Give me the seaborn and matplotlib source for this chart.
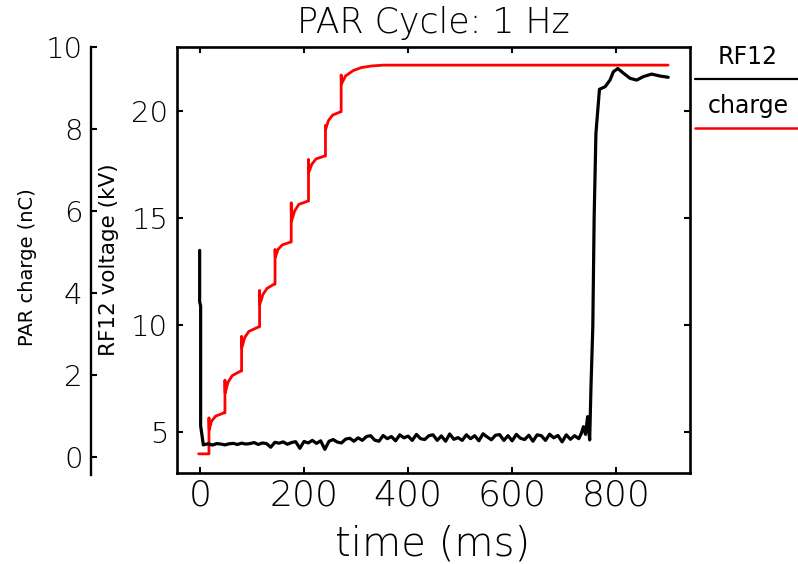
import numpy as np
import pandas as pd
import matplotlib
matplotlib.use("Agg")
import matplotlib.pyplot as plt
from matplotlib.lines import Line2D
import seaborn as sns

# ---------------- data ----------------
# RF12 voltage (kV) vs time (ms)
volt_t_start = [-0.6, -0.6, 1.3, 1.3, 6.5]
volt_v_start = [13.5, 11.1, 10.9, 5.3, 4.41]

volt_t_base = list(np.arange(8, 729, 8))
volt_v_base = [4.42, 4.46, 4.40, 4.47, 4.45, 4.41, 4.46, 4.48, 4.43, 4.49, 4.45, 4.47,
               4.52, 4.43, 4.50, 4.47, 4.30, 4.53, 4.49, 4.55, 4.44, 4.52, 4.56, 4.25, 4.57,
               4.50, 4.62, 4.48, 4.60, 4.20, 4.58, 4.66, 4.54, 4.50, 4.68, 4.72, 4.58, 4.74,
               4.62, 4.80, 4.84, 4.63, 4.58, 4.85, 4.70, 4.80, 4.60, 4.88, 4.74, 4.82,
               4.62, 4.90, 4.70, 4.66, 4.84, 4.88, 4.62, 4.83, 4.58, 4.92, 4.67, 4.75, 4.62,
               4.88, 4.70, 4.84, 4.60, 4.93, 4.78, 4.65, 4.86, 4.89, 4.62, 4.84, 4.60,
               4.90, 4.72, 4.66, 4.86, 4.58, 4.88, 4.84, 4.62, 4.91, 4.74, 4.85, 4.55, 4.88, 4.67, 4.84, 4.70]

volt_t_end = [733, 737, 741, 745, 749, 751.5, 755, 757.6, 761, 767.8, 778.7, 788, 794.6,
              803, 814, 826.7, 839.5, 852, 868, 884, 900]
volt_v_end = [4.95, 5.26, 4.90, 5.73, 4.64, 7.13, 9.93, 15.07, 18.97, 21.03, 21.15, 21.46, 21.85,
              22.0, 21.78, 21.54, 21.46, 21.62, 21.74, 21.65, 21.59]

# PAR charge (nC) vs time (ms)
charge_t = [-2.5,
            17.3, 17.3, 17.8, 22, 30, 46,
            48, 48, 48.5, 54, 62, 78,
            80, 80, 80.5, 86, 94, 113,
            114.6, 114.6, 115.1, 121, 129, 142,
            144.3, 144.3, 144.8, 150, 158, 174,
            175.4, 175.4, 175.9, 182, 190, 207.3,
            208.6, 208.6, 209.1, 215, 223, 239.4,
            241.2, 241.2, 241.7, 247, 255, 270,
            271.4, 271.4, 271.9, 280, 295, 310, 330, 352.6, 899.7]
charge_q = [0.07,
            0.07, 0.95, 0.66, 0.86, 0.99, 1.07,
            1.07, 1.87, 1.56, 1.82, 1.98, 2.09,
            2.09, 2.94, 2.66, 2.91, 3.06, 3.17,
            3.17, 4.06, 3.72, 3.96, 4.11, 4.21,
            4.21, 5.06, 4.87, 5.06, 5.17, 5.24,
            5.24, 6.20, 5.75, 6.00, 6.16, 6.24,
            6.24, 7.26, 6.94, 7.14, 7.27, 7.34,
            7.34, 8.09, 8.00, 8.21, 8.34, 8.42,
            8.42, 9.32, 9.10, 9.30, 9.43, 9.50, 9.54, 9.56, 9.56]

x_ticks = [0, 200, 400, 600, 800]
volt_ticks = [5, 10, 15, 20]
charge_ticks = [0, 2, 4, 6, 8, 10]

volt_df = pd.DataFrame({
    "time": volt_t_start + volt_t_base + volt_t_end,
    "volt": volt_v_start + volt_v_base + volt_v_end,
})
charge_df = pd.DataFrame({"time": charge_t, "charge": charge_q})

# ---------------- figure ----------------
sns.set_theme(style="ticks")
plt.rcParams["font.family"] = ["DejaVu Sans"]
plt.rcParams["font.weight"] = 200
plt.rcParams["text.color"] = "black"
plt.rcParams["xtick.color"] = "black"
plt.rcParams["ytick.color"] = "black"
plt.rcParams["xtick.labelcolor"] = "black"
plt.rcParams["ytick.labelcolor"] = "black"

W, H = 798, 564
fig = plt.figure(figsize=(W / 100, H / 100), dpi=100)
L, R, T, B = 176.7, 690, 46.7, 472.7
ax = fig.add_axes([L / W, 1 - B / H, (R - L) / W, (B - T) / H])
ax2 = ax.twinx()

sns.lineplot(data=charge_df, x="time", y="charge", ax=ax2, color="#ff0000",
             lw=2.0, estimator=None, sort=False, legend=False)
sns.lineplot(data=volt_df, x="time", y="volt", ax=ax, color="black",
             lw=2.3, estimator=None, sort=False, legend=False)

ax.set_zorder(ax2.get_zorder() + 1)
ax.patch.set_visible(False)

ax.set_xlim(-44.7, 941.8)
ax.set_ylim(3.11, 23.02)
ax2.set_ylim(-0.39, 10.01)

ax.set_xticks(x_ticks)
ax.set_yticks(volt_ticks)
ax2.set_yticks(charge_ticks)

for s in ax.spines.values():
    s.set_linewidth(1.9)
    s.set_color("black")
ax.tick_params(axis="both", which="both", direction="in", top=True, right=True,
               length=4, width=1.5, color="black", labelcolor="black")
ax.tick_params(axis="x", labelsize=26, pad=4)
ax.tick_params(axis="y", labelsize=21, pad=6)

# charge axis on the far left
for k in ["top", "right", "bottom"]:
    ax2.spines[k].set_visible(False)
ax2.spines["left"].set_visible(True)
ax2.spines["left"].set_position(("axes", -0.167))
ax2.spines["left"].set_linewidth(1.7)
ax2.spines["left"].set_color("black")
ax2.spines["left"].set_bounds(-0.45, 10.0)
ax2.yaxis.set_ticks_position("left")
ax2.yaxis.set_label_position("left")
ax2.tick_params(axis="y", direction="in", length=4, width=1.5, labelsize=21, pad=6,
                color="black", labelcolor="black")

ax.set_xlabel("")
ax.set_ylabel("")
ax2.set_xlabel("")
ax2.set_ylabel("")

ax.set_title("PAR Cycle: 1 Hz", fontsize=25, pad=10, color="black", fontweight=200)

fig.text(433 / W, 1 - 544 / H, "time (ms)", fontsize=29, ha="center", va="center",
         fontweight=200)
fig.text(28 / W, 1 - 267 / H, "PAR charge (nC)", fontsize=14, rotation=90,
         ha="center", va="center", fontweight="normal")
fig.text(109 / W, 1 - 260 / H, "RF12 voltage (kV)", fontsize=15.5, rotation=90,
         ha="center", va="center", fontweight="normal")

# legend at the right
fig.text(748 / W, 1 - 57 / H, "RF12", fontsize=17, ha="center", va="center",
         fontweight="normal")
fig.add_artist(Line2D([695 / W, 1.0], [1 - 79 / H, 1 - 79 / H], color="black", lw=1.6,
                      transform=fig.transFigure))
fig.text(748 / W, 1 - 106 / H, "charge", fontsize=17, ha="center", va="center",
         fontweight="normal")
fig.add_artist(Line2D([695 / W, 1.0], [1 - 128 / H, 1 - 128 / H], color="#ff0000", lw=1.8,
                      transform=fig.transFigure))

fig.savefig("out.png", dpi=100)
